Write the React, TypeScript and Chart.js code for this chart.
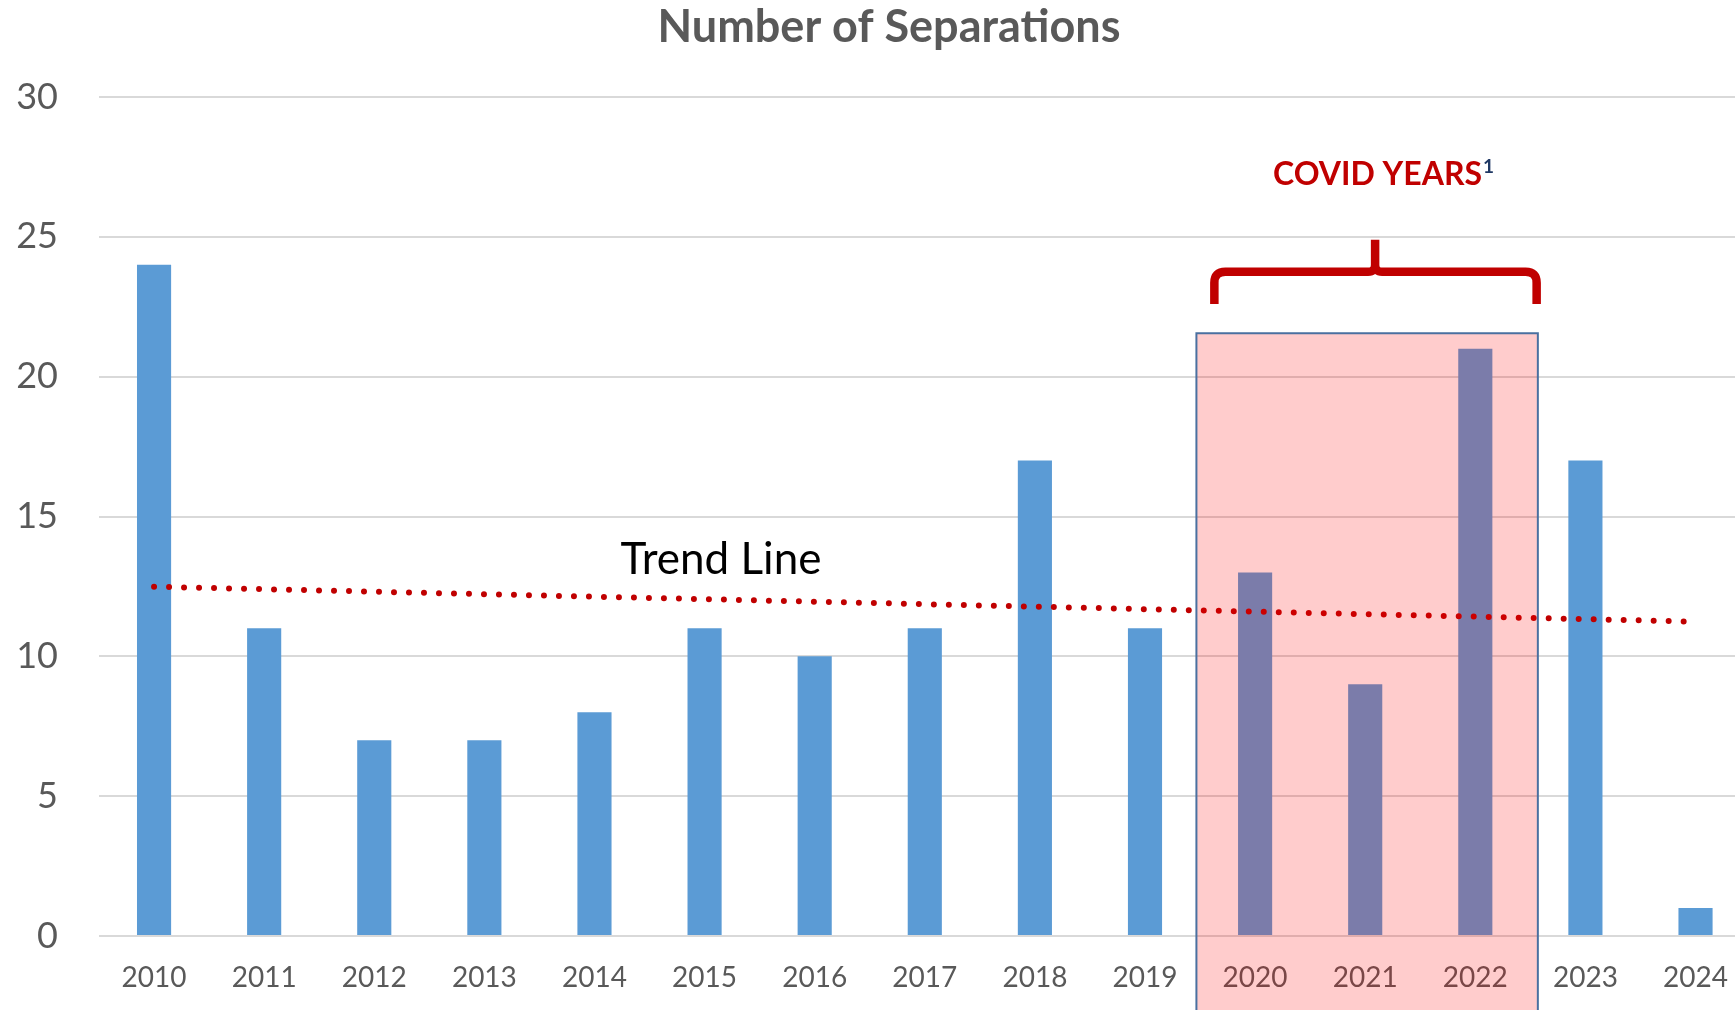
import React, { useEffect, useRef } from 'react';
import { Chart, registerables } from 'chart.js';

Chart.register(...registerables);

// ---- data ----
const years = ['2010', '2011', '2012', '2013', '2014', '2015', '2016', '2017', '2018', '2019', '2020', '2021', '2022', '2023', '2024'];
const separations = [24, 11, 7, 7, 8, 11, 10, 11, 17, 11, 13, 9, 21, 17, 1];
const trendEnds = [12.49, 11.24]; // trend line value at first and last year
const yTicks = [0, 5, 10, 15, 20, 25, 30];

const chartTitle = 'Number of Separations';
const covidLabel = 'COVID YEARS';
const covidNote = '1';
const trendLabel = 'Trend Line';

// ---- annotation geometry (axis units) ----
const covidBox = { from: 9.467, to: 12.568, top: 21.55 };
const brace = { left: 9.63, right: 12.557, mid: 11.09, foot: 22.6, bar: 23.75, tip: 24.9 };

const BLUE = '#5B9BD5';
const RED = '#C00000';
const GREY = '#595959';
const FONT = 'Lato';

const annotations = {
  id: 'covidAnnotations',
  afterDraw(chart: any) {
    const { ctx } = chart;
    const x = chart.scales.x;
    const y = chart.scales.y;
    ctx.save();

    // title
    ctx.fillStyle = GREY;
    ctx.font = `bold 45px ${FONT}`;
    ctx.textAlign = 'center';
    ctx.textBaseline = 'alphabetic';
    ctx.fillText(chartTitle, 889, 41.5);

    // trend label
    ctx.fillStyle = '#000000';
    ctx.font = `44px ${FONT}`;
    ctx.fillText(trendLabel, 721, 574);

    // covid box overlay
    const bl = x.getPixelForValue(covidBox.from);
    const br = x.getPixelForValue(covidBox.to);
    const bt = y.getPixelForValue(covidBox.top);
    const bb = chart.height + 5;
    ctx.fillStyle = 'rgba(255, 0, 0, 0.2)';
    ctx.fillRect(bl, bt, br - bl, bb - bt);
    ctx.strokeStyle = '#4A70A0';
    ctx.lineWidth = 2;
    ctx.beginPath();
    ctx.moveTo(bl, bb);
    ctx.lineTo(bl, bt);
    ctx.lineTo(br, bt);
    ctx.lineTo(br, bb);
    ctx.stroke();

    // brace
    const L = x.getPixelForValue(brace.left);
    const R = x.getPixelForValue(brace.right);
    const M = x.getPixelForValue(brace.mid);
    const F = y.getPixelForValue(brace.foot);
    const B = y.getPixelForValue(brace.bar);
    const T = y.getPixelForValue(brace.tip);
    const r = 11;
    const rm = 7;
    ctx.strokeStyle = RED;
    ctx.lineWidth = 8.5;
    ctx.lineCap = 'butt';
    ctx.lineJoin = 'round';
    ctx.beginPath();
    ctx.moveTo(L, F);
    ctx.lineTo(L, B + r);
    ctx.quadraticCurveTo(L, B, L + r, B);
    ctx.lineTo(M - rm, B);
    ctx.quadraticCurveTo(M, B, M, B - rm);
    ctx.lineTo(M, T);
    ctx.moveTo(M, B - rm);
    ctx.quadraticCurveTo(M, B, M + rm, B);
    ctx.lineTo(R - r, B);
    ctx.quadraticCurveTo(R, B, R, B + r);
    ctx.lineTo(R, F);
    ctx.stroke();

    // covid label
    ctx.textAlign = 'left';
    ctx.fillStyle = RED;
    ctx.font = `bold 32px ${FONT}`;
    const lx = 1273;
    ctx.fillText(covidLabel, lx, 185);
    const w = ctx.measureText(covidLabel).width;
    ctx.fillStyle = '#1F3864';
    ctx.font = `bold 19px ${FONT}`;
    ctx.fillText(covidNote, lx + w + 1, 173);

    ctx.restore();
  },
};

export default function App() {
  const ref = useRef<HTMLCanvasElement | null>(null);

  useEffect(() => {
    if (!ref.current) return;
    const trendData = years.map((_, i) =>
      i === 0 ? trendEnds[0] : i === years.length - 1 ? trendEnds[1] : null
    );
    const chart = new Chart(ref.current, {
      type: 'bar',
      data: {
        labels: years,
        datasets: [
          {
            type: 'line',
            label: 'Trend',
            data: trendData,
            spanGaps: true,
            borderColor: RED,
            borderWidth: 6,
            borderDash: [0, 15],
            borderCapStyle: 'round',
            pointRadius: 0,
            fill: false,
            order: 0,
          } as any,
          {
            type: 'bar',
            label: 'Separations',
            data: separations,
            backgroundColor: BLUE,
            borderWidth: 0,
            barPercentage: 0.31,
            categoryPercentage: 1,
            order: 1,
          } as any,
        ],
      },
      options: {
        responsive: false,
        maintainAspectRatio: false,
        animation: false,
        devicePixelRatio: 1,
        layout: { padding: { left: 0, right: 0, top: 97, bottom: 0 } },
        plugins: {
          legend: { display: false },
          title: { display: false },
          tooltip: { enabled: false },
        },
        scales: {
          x: {
            offset: true,
            grid: { display: false, drawTicks: false },
            border: { display: false },
            ticks: {
              color: GREY,
              font: { family: FONT, size: 28 },
              padding: 25,
              maxRotation: 0,
              autoSkip: false,
            },
            afterFit: (scale: any) => {
              scale.height = 74;
            },
          },
          y: {
            min: yTicks[0],
            max: yTicks[yTicks.length - 1],
            grid: { color: '#D9D9D9', lineWidth: 2, drawTicks: false },
            border: { display: false },
            ticks: {
              stepSize: yTicks[1] - yTicks[0],
              color: GREY,
              font: { family: FONT, size: 36 },
              padding: 41,
            },
            afterFit: (scale: any) => {
              scale.width = 99;
            },
          },
        },
      },
      plugins: [annotations],
    });
    return () => chart.destroy();
  }, []);

  return (
    <div
      style={{
        position: 'fixed',
        left: 0,
        top: 0,
        width: 1735,
        height: 1010,
        overflow: 'hidden',
        background: '#ffffff',
      }}
    >
      <canvas ref={ref} width={1753} height={1010} style={{ width: 1753, height: 1010, display: 'block' }} />
    </div>
  );
}
